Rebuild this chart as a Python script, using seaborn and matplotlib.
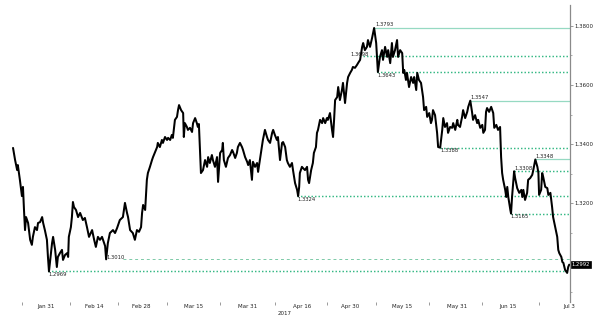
import numpy as np
import pandas as pd
import matplotlib
matplotlib.use("Agg")
import matplotlib.pyplot as plt
import matplotlib.dates as mdates
from matplotlib.ticker import FixedLocator, NullFormatter, FixedFormatter, MultipleLocator, FuncFormatter
import seaborn as sns

# ---------------- data ----------------
base_date = "2017-01-31"

day_offset = [
    -9.6, -9.0, -8.4, -8.2, -7.6, -7.0, -6.7, -6.4, -6.1, -5.8,
    -5.2, -4.6, -4.1, -3.8, -3.2, -2.6, -2.3, -1.7, -1.1, -0.8,
    -0.3, 0.3, 0.6, 0.9, 1.5, 1.8, 2.1, 2.7, 3.2, 3.5,
    4.1, 4.7, 5.0, 5.6, 6.2, 6.5, 6.7, 7.3, 7.6, 7.9,
    8.2, 8.8, 9.4, 10.0, 10.8, 11.4, 12.0, 12.6, 13.5, 14.1,
    14.6, 15.2, 15.8, 16.4, 17.3, 17.6, 18.1, 18.7, 19.6, 20.2,
    20.8, 21.6, 22.5, 23.1, 23.7, 24.0, 24.6, 25.4, 26.0, 26.6,
    27.2, 27.8, 28.1, 28.4, 29.0, 29.5, 29.8, 30.4, 31.0, 31.3,
    31.9, 32.5, 32.7, 33.3, 33.9, 34.2, 34.8, 35.4, 35.7, 36.3,
    36.8, 37.1, 37.7, 38.3, 38.6, 38.9, 39.5, 40.1, 40.3, 40.6,
    41.2, 41.5, 42.1, 42.7, 43.0, 43.6, 44.1, 44.4, 44.7, 45.3,
    45.9, 46.5, 47.1, 47.4, 47.9, 48.5, 48.8, 49.4, 50.0, 50.3,
    50.9, 51.5, 51.7, 52.0, 52.6, 53.2, 53.8, 54.4, 54.7, 55.3,
    55.8, 56.1, 56.7, 57.3, 57.6, 58.2, 58.8, 59.1, 59.6, 60.2,
    60.5, 61.1, 61.7, 62.0, 62.6, 63.1, 63.4, 64.0, 64.6, 64.9,
    65.5, 66.1, 66.4, 66.9, 67.5, 67.8, 68.4, 69.0, 69.3, 69.9,
    70.4, 70.7, 71.3, 71.9, 72.2, 72.8, 73.4, 73.7, 74.0, 74.2,
    74.8, 75.1, 75.7, 76.3, 76.6, 76.9, 77.5, 78.0, 78.3, 78.9,
    79.2, 79.5, 80.1, 80.7, 81.0, 81.6, 82.1, 82.4, 83.0, 83.6,
    83.9, 84.2, 84.5, 85.1, 85.4, 85.9, 86.5, 86.8, 87.4, 88.0,
    88.3, 88.9, 89.4, 89.7, 90.3, 90.9, 91.2, 91.8, 92.4, 92.7,
    93.2, 93.8, 94.1, 94.7, 95.3, 95.6, 95.9, 96.5, 96.8, 97.0,
    97.6, 98.2, 98.5, 99.1, 99.7, 100.0, 100.6, 101.1, 101.4, 102.0,
    102.6, 102.9, 103.5, 104.1, 104.4, 104.7, 105.2, 105.5, 106.1, 106.7,
    107.3, 107.6, 108.2, 108.5, 109.0, 109.6, 110.2, 110.5, 111.1, 111.4,
    112.0, 112.5, 112.8, 113.1, 113.7, 114.3, 114.6, 115.2, 115.8, 116.1,
    116.6, 117.2, 117.5, 118.1, 118.7, 119.0, 119.6, 120.2, 120.4, 121.0,
    121.6, 121.9, 122.5, 123.1, 123.4, 124.0, 124.5, 124.8, 125.4, 126.0,
    126.3, 126.9, 127.5, 127.8, 128.3, 128.6, 128.9, 129.5, 130.1, 130.7,
    131.0, 131.6, 132.1, 132.7, 133.0, 133.3, 133.6, 134.2, 134.5, 134.8,
    135.1, 135.7, 135.9, 136.2, 136.8, 137.1, 137.7, 138.3, 138.9, 139.2,
    139.5, 140.0, 140.6, 140.9, 141.5, 142.1, 142.4, 143.0, 143.6, 143.9,
    144.1, 144.7, 145.0, 145.3, 145.9, 146.5, 146.8, 147.4, 147.9, 148.2,
    148.8, 149.4, 149.7, 150.0, 150.6, 150.9, 151.2, 151.7, 152.3, 152.6,
    152.9,
]

price = [
    1.3387, 1.3346, 1.3312, 1.3329, 1.3279, 1.3224, 1.3255, 1.3177, 1.3109, 1.3153,
    1.3133, 1.3076, 1.3059, 1.3086, 1.3119, 1.3109, 1.3133, 1.3136, 1.3153, 1.3133,
    1.3109, 1.3076, 1.3018, 1.2969, 1.3031, 1.3065, 1.3086, 1.3042, 1.2984, 1.3018,
    1.3031, 1.3042, 1.3008, 1.3025, 1.3031, 1.3018, 1.3086, 1.3119, 1.3153, 1.3204,
    1.3187, 1.3177, 1.3153, 1.3167, 1.3143, 1.3150, 1.3119, 1.3086, 1.3109, 1.3076,
    1.3052, 1.3086, 1.3076, 1.3086, 1.3055, 1.3010, 1.3065, 1.3099, 1.3109, 1.3099,
    1.3116, 1.3143, 1.3153, 1.3201, 1.3167, 1.3153, 1.3109, 1.3099, 1.3076, 1.3109,
    1.3103, 1.3119, 1.3167, 1.3194, 1.3177, 1.3279, 1.3302, 1.3323, 1.3346, 1.3356,
    1.3373, 1.3390, 1.3404, 1.3390, 1.3414, 1.3404, 1.3424, 1.3414, 1.3421, 1.3414,
    1.3431, 1.3421, 1.3482, 1.3492, 1.3515, 1.3532, 1.3515, 1.3505, 1.3424, 1.3471,
    1.3458, 1.3448, 1.3455, 1.3441, 1.3471, 1.3488, 1.3471, 1.3458, 1.3468, 1.3302,
    1.3312, 1.3346, 1.3323, 1.3356, 1.3336, 1.3363, 1.3346, 1.3323, 1.3356, 1.3272,
    1.3370, 1.3380, 1.3404, 1.3346, 1.3323, 1.3353, 1.3363, 1.3380, 1.3373, 1.3353,
    1.3370, 1.3390, 1.3404, 1.3390, 1.3380, 1.3356, 1.3340, 1.3329, 1.3346, 1.3279,
    1.3340, 1.3323, 1.3336, 1.3306, 1.3353, 1.3390, 1.3414, 1.3448, 1.3424, 1.3414,
    1.3404, 1.3438, 1.3448, 1.3431, 1.3414, 1.3424, 1.3346, 1.3404, 1.3407, 1.3390,
    1.3346, 1.3336, 1.3323, 1.3336, 1.3312, 1.3268, 1.3245, 1.3224, 1.3255, 1.3302,
    1.3323, 1.3319, 1.3312, 1.3323, 1.3279, 1.3268, 1.3312, 1.3336, 1.3370, 1.3390,
    1.3438, 1.3448, 1.3482, 1.3471, 1.3488, 1.3471, 1.3488, 1.3482, 1.3505, 1.3448,
    1.3424, 1.3482, 1.3549, 1.3559, 1.3593, 1.3549, 1.3583, 1.3607, 1.3539, 1.3607,
    1.3627, 1.3641, 1.3651, 1.3661, 1.3658, 1.3668, 1.3674, 1.3685, 1.3729, 1.3742,
    1.3718, 1.3729, 1.3752, 1.3729, 1.3759, 1.3776, 1.3793, 1.3742, 1.3685, 1.3644,
    1.3695, 1.3718, 1.3685, 1.3729, 1.3695, 1.3718, 1.3674, 1.3742, 1.3695, 1.3718,
    1.3752, 1.3695, 1.3718, 1.3708, 1.3641, 1.3651, 1.3617, 1.3641, 1.3593, 1.3627,
    1.3607, 1.3627, 1.3583, 1.3641, 1.3617, 1.3607, 1.3559, 1.3515, 1.3526, 1.3492,
    1.3505, 1.3471, 1.3482, 1.3515, 1.3498, 1.3438, 1.3390, 1.3388, 1.3448, 1.3488,
    1.3458, 1.3471, 1.3438, 1.3458, 1.3455, 1.3471, 1.3448, 1.3482, 1.3465, 1.3458,
    1.3492, 1.3515, 1.3488, 1.3509, 1.3526, 1.3547, 1.3509, 1.3482, 1.3498, 1.3471,
    1.3482, 1.3455, 1.3465, 1.3438, 1.3448, 1.3509, 1.3522, 1.3509, 1.3526, 1.3505,
    1.3455, 1.3465, 1.3448, 1.3458, 1.3356, 1.3302, 1.3279, 1.3245, 1.3221, 1.3255,
    1.3221, 1.3177, 1.3165, 1.3221, 1.3308, 1.3285, 1.3251, 1.3235, 1.3245, 1.3221,
    1.3245, 1.3211, 1.3235, 1.3279, 1.3285, 1.3296, 1.3312, 1.3348, 1.3323, 1.3302,
    1.3228, 1.3245, 1.3302, 1.3289, 1.3255, 1.3251, 1.3228, 1.3235, 1.3187, 1.3153,
    1.3119, 1.3086, 1.3042, 1.3031, 1.3018, 1.3001, 1.2998, 1.2974, 1.2964, 1.2984,
    1.2992,
]

tick_labels = ["Jan 31", "Feb 14", "Feb 28", "Mar 15", "Mar 31", "Apr 16",
               "Apr 30", "May 15", "May 31", "Jun 15", "Jul 3"]
tick_day = [0, 14, 28, 43, 59, 75, 89, 104, 120, 135, 153]

level_value = [1.3793, 1.3698, 1.3643, 1.3547, 1.3388, 1.3348, 1.3308,
               1.3224, 1.3165, 1.3010, 1.2969]
level_text = ["1.3793", "1.3698", "1.3643", "1.3547", "1.3388", "1.3348",
              "1.3308", "1.3324", "1.3165", "1.3010", "1.2969"]
level_start_day = [96.2, 92.7, 96.8, 124.0, 115.2, 143.0, 136.8,
                   73.4, 135.9, 22.5, 0.6]
level_label_day = [96.2, 88.9, 96.8, 124.0, 115.2, 143.0, 136.8,
                   73.4, 135.6, 17.6, 0.6]
level_kind = ["solid", "dotted", "dotted", "solid", "dotted", "solid",
              "dotted", "dotted", "dotted", "dashed", "dotted"]
level_label_pos = ["above", "left", "below", "above", "below", "above",
                   "above", "below", "below", "left", "below"]

last_price = 1.2992
last_text = "1.2992"
year_label = "2017"

assert len(day_offset) == len(price)

# ---------------- figure ----------------
sns.set_theme(style="white")
plt.rcParams["font.family"] = ["DejaVu Sans"]

W, H = 600, 318
fig = plt.figure(figsize=(W / 100, H / 100), dpi=100)
ax = fig.add_axes([0.0, 16 / H, 570 / W, 297 / H])

base = pd.Timestamp(base_date)
df = pd.DataFrame({
    "date": base + pd.to_timedelta(day_offset, unit="D"),
    "price": price,
})

sns.lineplot(data=df, x="date", y="price", ax=ax, color="black",
             linewidth=1.45, estimator=None, sort=False, zorder=4)

x_left = base + pd.Timedelta(days=-13.41)
x_right = base + pd.Timedelta(days=153.13)
ax.set_xlim(x_left, x_right)
ax.set_ylim(1.28656, 1.38707)

# horizontal levels
styles = {
    "solid": dict(color="#96d9c2", linewidth=0.9, linestyle="-"),
    "dotted": dict(color="#35b884", linewidth=1.05, linestyle=(0, (1.0, 1.4))),
    "dashed": dict(color="#7dcaa8", linewidth=0.7, linestyle=(0, (3, 3))),
}
for val, txt, sd, ld, kind, pos in zip(level_value, level_text, level_start_day,
                                       level_label_day, level_kind, level_label_pos):
    start = base + pd.Timedelta(days=sd)
    ax.plot([start, x_right], [val, val], zorder=2, **styles[kind])
    lx = base + pd.Timedelta(days=ld)
    if pos == "above":
        ax.annotate(txt, (lx, val), xytext=(0.3, 0.4), textcoords="offset points",
                    ha="left", va="bottom", fontsize=3.8, color="#222222", zorder=5)
    elif pos == "below":
        ax.annotate(txt, (lx, val), xytext=(0.3, -0.5), textcoords="offset points",
                    ha="left", va="top", fontsize=3.8, color="#222222", zorder=5)
    else:
        ax.annotate(txt, (lx, val), xytext=(0.0, 1.2), textcoords="offset points",
                    ha="left", va="center", fontsize=3.8, color="#222222", zorder=5)

# spines
for s in ["top", "left", "bottom"]:
    ax.spines[s].set_visible(False)
ax.spines["right"].set_visible(True)
ax.spines["right"].set_color("#8a8a8a")
ax.spines["right"].set_linewidth(0.9)

# y axis on the right
ax.yaxis.tick_right()
ax.yaxis.set_label_position("right")
ax.yaxis.set_major_locator(FixedLocator([1.32, 1.34, 1.36, 1.38]))
ax.yaxis.set_minor_locator(MultipleLocator(0.01))
ax.yaxis.set_major_formatter(FuncFormatter(lambda v, p: f"{v:.4f}"))
ax.tick_params(axis="y", which="major", direction="out", length=2.2, width=0.6,
               color="#8a8a8a", labelsize=3.9, pad=0.8, labelcolor="#222222",
               right=True, left=False)
ax.tick_params(axis="y", which="minor", direction="out", length=1.3, width=0.5,
               color="#8a8a8a", right=True, left=False)
ax.set_ylabel("")

# x axis: tick marks between labels, labels at dates
label_dates = [base + pd.Timedelta(days=d) for d in tick_day]
label_nums = [mdates.date2num(d.to_pydatetime()) for d in label_dates]
mid_nums = [label_nums[0] - 7] + [(a + b) / 2 for a, b in zip(label_nums[:-1], label_nums[1:])]
ax.xaxis.set_major_locator(FixedLocator(mid_nums))
ax.xaxis.set_major_formatter(NullFormatter())
ax.xaxis.set_minor_locator(FixedLocator(label_nums))
ax.xaxis.set_minor_formatter(FixedFormatter(tick_labels))
ax.tick_params(axis="x", which="major", direction="out", length=2.2, width=0.6,
               color="#8a8a8a", bottom=True)
ax.tick_params(axis="x", which="minor", length=0, labelsize=4.0, pad=1.5,
               labelcolor="#222222", bottom=True)
ax.set_xlabel(year_label, fontsize=4.0, color="#222222", labelpad=1.0)
ax.grid(False)

# last price box
ax.annotate(last_text, xy=(1.0, last_price), xycoords=("axes fraction", "data"),
            xytext=(1.2, 0), textcoords="offset points", ha="left", va="center",
            fontsize=3.8, color="white", zorder=10, annotation_clip=False,
            bbox=dict(boxstyle="square,pad=0.2", fc="black", ec="black", lw=0.5))

fig.savefig("out.png", dpi=100, facecolor="white")
